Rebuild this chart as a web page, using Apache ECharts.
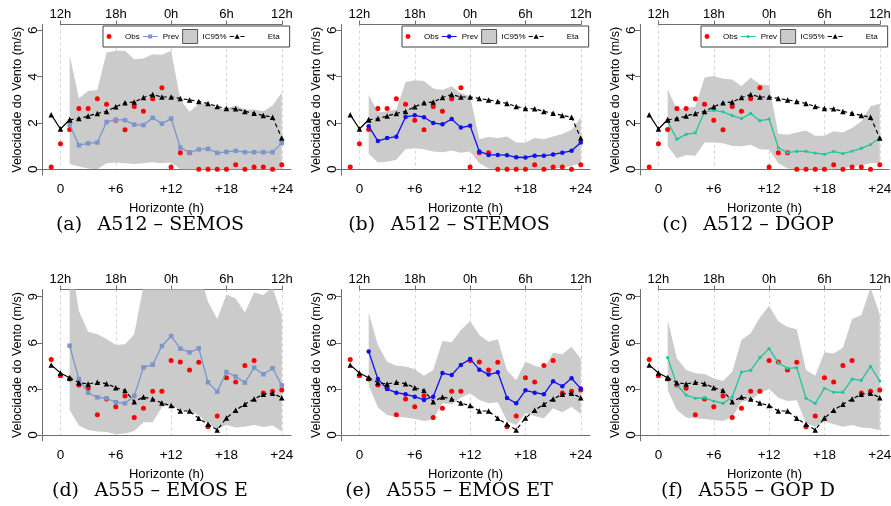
<!DOCTYPE html>
<html>
<head>
<meta charset="utf-8">
<script src="https://cdn.jsdelivr.net/npm/echarts@6/dist/echarts.min.js"></script>
<style>html,body{margin:0;padding:0;background:#fff}#chart{width:891px;height:506px}</style>
</head>
<body>
<div id="chart"></div>
<script>
// ---------- data ----------
const hours = [-1,0,1,2,3,4,5,6,7,8,9,10,11,12,13,14,15,16,17,18,19,20,21,22,23,24];
const prevHours = [1,2,3,4,5,6,7,8,9,10,11,12,13,14,15,16,17,18,19,20,21,22,23,24];
const xTickValues = [0,6,12,18,24];
const xTickLabels = ['0','+6','+12','+18','+24'];
const topTickLabels = ['12h','18h','0h','6h','12h'];
const yTicksA512 = [0,2,4,6];
const yTicksA555 = [0,3,6,9];

const obsA512 = [0.1,1.1,1.72,2.62,2.62,3.04,2.81,2.12,1.71,2.71,2.51,3.04,3.52,0.1,0.71,0.71,0,0,0,0,0.2,0,0.1,0.1,0,0.2];
const etaA512 = [2.36,1.74,2.14,2.19,2.3,2.41,2.5,2.7,2.87,2.9,3.1,3.23,3.12,3.12,3.06,2.99,2.93,2.84,2.71,2.62,2.61,2.5,2.42,2.32,2.25,1.35];
const obsA555 = [4.92,3.86,3.64,3.25,3.04,1.32,2.34,1.84,2.54,1.13,1.74,2.84,2.84,4.84,4.75,4.23,4.73,0.54,1.24,3.73,3.45,4.53,4.84,2.73,2.84,2.93];
const etaA555 = [4.56,4.03,3.73,3.4,3.32,3.43,3.34,3.08,2.89,2.17,2.47,2.34,2.08,1.91,1.56,1.56,1.08,0.69,0.33,1.1,1.61,2.0,2.34,2.65,2.71,2.43];

const prevSEMOS = [1.93,1.04,1.12,1.16,2.04,2.14,2.12,1.93,1.91,2.22,1.97,2.19,0.94,0.72,0.86,0.88,0.71,0.75,0.8,0.74,0.74,0.74,0.74,1.14];
const upSEMOS   = [4.93,3.06,3.38,3.42,5.04,5.12,5.12,4.75,4.78,4.97,4.94,5.12,3.01,2.48,2.83,2.87,2.62,2.62,2.77,2.58,2.58,2.51,2.75,3.3];
const lowSEMOS  = [0.23,0.12,0.04,0,0.26,0.29,0.26,0.23,0.26,0.3,0.26,0.29,0,0,0,0,0,0,0,0,0,0,0,0];

const prevSTEMOS = [1.86,1.22,1.35,1.41,2.26,2.33,2.25,2.0,1.94,2.17,1.8,1.88,0.77,0.62,0.62,0.61,0.52,0.51,0.59,0.58,0.64,0.72,0.8,1.16];
const upSTEMOS   = [3.22,2.46,2.51,2.58,3.77,3.84,3.81,3.49,3.42,3.59,3.28,3.16,1.3,1.39,1.35,1.42,1.16,1.16,1.35,1.3,1.42,1.52,1.71,2.22];
const lowSTEMOS  = [0.67,0.29,0.33,0.41,0.87,0.91,0.87,0.77,0.74,0.81,0.72,0.77,0.26,0.04,0,0,0,0,0,0,0.04,0.07,0.14,0.26];

const prevDGOP = [2.07,1.3,1.51,1.57,2.48,2.54,2.48,2.32,2.19,2.41,2.1,2.17,0.93,0.72,0.77,0.77,0.7,0.65,0.77,0.68,0.78,0.9,1.07,1.35];
const upDGOP   = [3.45,2.58,2.65,2.7,3.96,4.03,3.91,3.88,3.59,3.96,3.67,3.62,1.54,1.49,1.59,1.68,1.45,1.45,1.64,1.59,1.78,2.07,2.72,2.83];
const lowDGOP  = [0.99,0.48,0.62,0.58,1.16,1.16,1.13,1.01,0.99,1.06,0.87,0.84,0.26,0.04,0,0,0,0,0,0.04,0.12,0.17,0.26,0.26];

const prevEMOSE = [5.81,3.64,2.75,2.45,2.39,2.13,2.06,2.54,4.4,4.58,5.79,6.44,5.62,5.38,5.64,3.43,2.82,4.1,3.8,3.41,4.38,3.95,4.34,3.23];
const upEMOSE   = [11.9,8.07,6.72,6.55,6.25,5.86,5.9,6.55,9.7,10.1,11.6,12.9,11.4,11.0,10.7,8.68,7.55,9.15,8.89,7.98,9.28,9.11,9.6,7.81];
const lowEMOSE  = [1.63,0.61,0.33,0.22,0.2,0.04,0.09,0.26,0.82,0.82,1.8,1.95,1.63,1.56,1.3,0.69,0.39,0.65,0.48,0.54,0.65,0.52,0.61,0.22];

const prevEMOSET = [5.44,3.64,2.99,2.75,2.65,2.49,2.28,2.49,4.03,3.9,4.56,4.95,4.25,3.93,4.08,2.41,2.06,2.91,2.75,2.65,3.49,3.17,3.69,3.02];
const upEMOSET   = [7.98,5.86,4.77,4.51,4.45,4.27,3.86,4.23,6.12,6.03,6.83,7.42,6.51,6.07,6.23,4.19,3.56,4.77,4.51,4.34,5.36,5.25,5.75,4.95];
const lowEMOSET  = [3.25,1.78,1.3,1.19,1.13,1.04,0.91,1.02,2.06,2.0,2.43,2.71,2.28,2.06,2.13,0.91,0.65,1.41,1.24,1.08,1.74,1.48,1.84,1.37];

const prevGOPD = [5.03,3.25,2.6,2.39,2.41,2.21,2.06,2.47,4.1,4.21,5.03,5.62,4.69,4.34,4.38,2.39,2.06,3.04,2.78,2.78,3.64,3.56,4.47,3.51];
const upGOPD   = [7.48,4.99,4.23,4.01,3.97,3.69,3.51,4.12,6.18,6.62,7.64,8.42,7.38,7.03,6.88,4.23,3.86,5.38,5.31,5.68,7.55,7.81,9.6,7.85];
const lowGOPD  = [2.93,1.63,1.13,1.08,1.04,0.98,0.91,1.13,2.17,2.28,2.71,2.99,2.43,2.21,2.26,0.76,0.54,0.87,0.69,0.54,0.65,0.48,0.43,0.33];

const captions = ['(a)\u2002 A512 \u2013 SEMOS','(b)\u2002 A512 \u2013 STEMOS','(c)\u2002 A512 \u2013 DGOP',
                  '(d)\u2002 A555 \u2013 EMOS E','(e)\u2002 A555 \u2013 EMOS ET','(f)\u2002 A555 \u2013 GOP D'];
const legendNames = ['Obs','Prev','IC95%','Eta'];
const yAxisTitle = 'Velocidade do Vento (m/s)';
const xAxisTitle = 'Horizonte (h)';

// ---------- styles / layout ----------
const FONT = 'Liberation Sans';
const AXIS_COLOR = '#6e6e6e';
const BAND_COLOR = '#cbcbcb';
const colLeft = [42, 341, 640];
const plotWidth = 249;
const xMin = -2, xMax = 25;
const rows = [
  {top: 24.5, height: 150.6, yMin: -0.25, yMax: 6.25, ticks: yTicksA512, capY: 225.5},
  {top: 289.5, height: 151.3, yMin: -0.38, yMax: 9.47, ticks: yTicksA555, capY: 491.5}
];
const capX = [150, 449, 748];

const panels = [
  {obs: obsA512, eta: etaA512, prev: prevSEMOS,  low: lowSEMOS,  up: upSEMOS,  color: '#7b96cb', symbol: 'rect',   size: 4.5},
  {obs: obsA512, eta: etaA512, prev: prevSTEMOS, low: lowSTEMOS, up: upSTEMOS, color: '#1010f0', symbol: 'circle', size: 4.5},
  {obs: obsA512, eta: etaA512, prev: prevDGOP,   low: lowDGOP,   up: upDGOP,   color: '#22c49c', symbol: 'circle', size: 3.2},
  {obs: obsA555, eta: etaA555, prev: prevEMOSE,  low: lowEMOSE,  up: upEMOSE,  color: '#7b96cb', symbol: 'rect',   size: 4.5},
  {obs: obsA555, eta: etaA555, prev: prevEMOSET, low: lowEMOSET, up: upEMOSET, color: '#1010f0', symbol: 'circle', size: 4.5},
  {obs: obsA555, eta: etaA555, prev: prevGOPD,   low: lowGOPD,   up: upGOPD,   color: '#22c49c', symbol: 'circle', size: 3.2}
];

// legend icons (15 x 14 boxes)
const iconObs = 'path://M0,0M15,14M1.6,7a2.4,2.4 0 1,1 4.8,0a2.4,2.4 0 1,1 -4.8,0Z';
const iconPrevSquare = 'path://M0,0M15,14M0,6.4h15v1.2h-15ZM5.5,5h4v4h-4Z';
const iconPrevCircle = 'path://M0,0M15,14M0,6.4h15v1.2h-15ZM5.3,7a2.2,2.2 0 1,1 4.4,0a2.2,2.2 0 1,1 -4.4,0Z';
const iconPrevDot = 'path://M0,0M15,14M0,6.4h15v1.2h-15ZM5.9,7a1.6,1.6 0 1,1 3.2,0a1.6,1.6 0 1,1 -3.2,0Z';
const iconEta = 'path://M0,0M15,14M0,6.4h4.2v1.2h-4.2ZM10.8,6.4h4.2v1.2h-4.2ZM7.5,4.4L10.1,9.2H4.9Z';
const prevIcons = [iconPrevSquare, iconPrevCircle, iconPrevDot];

const pair = (xs, ys) => xs.map((x, i) => [x, ys[i]]);
const xScale = plotWidth / (xMax - xMin);
const tickFirst = xTickValues[0], tickLast = xTickValues[xTickValues.length - 1];

const grid = [], xAxis = [], yAxis = [], series = [], legend = [], graphic = [];

panels.forEach((P, p) => {
  const row = rows[Math.floor(p / 3)];
  const col = p % 3;
  const gMain = 2 * p, gTop = 2 * p + 1;
  const zeroPx = row.height * row.yMax / (row.yMax - row.yMin);

  grid.push({left: colLeft[col], top: row.top, width: plotWidth, height: row.height, outerBoundsMode: 'none', containLabel: false});
  grid.push({left: colLeft[col] + (tickFirst - xMin) * xScale, top: row.top,
             width: (tickLast - tickFirst) * xScale, height: zeroPx, outerBoundsMode: 'none', containLabel: false});

  xAxis.push({
    gridIndex: gMain, type: 'value', min: xMin, max: xMax, position: 'bottom',
    axisLine: {show: true, onZero: true, lineStyle: {color: AXIS_COLOR, width: 1}},
    axisTick: {show: false},
    axisLabel: {customValues: xTickValues, formatter: v => xTickLabels[xTickValues.indexOf(v)],
                fontSize: 13.5, color: '#000', margin: 7, fontFamily: FONT},
    splitLine: {show: false},
    name: xAxisTitle, nameLocation: 'middle', nameGap: 27, nameMoveOverlap: false,
    nameTextStyle: {fontSize: 13, color: '#000', fontFamily: FONT}
  });
  xAxis.push({
    gridIndex: gTop, type: 'value', min: tickFirst, max: tickLast, interval: 6, position: 'top',
    axisLine: {show: true, onZero: false, lineStyle: {color: AXIS_COLOR, width: 1}},
    axisTick: {show: true, length: 4, lineStyle: {color: AXIS_COLOR}},
    axisLabel: {formatter: v => topTickLabels[xTickValues.indexOf(v)], fontSize: 13, color: '#000', margin: 4, fontFamily: FONT},
    splitLine: {show: true, lineStyle: {color: '#d4d4d4', width: 1, type: [3, 3]}}
  });
  yAxis.push({
    gridIndex: gMain, type: 'value', min: row.yMin, max: row.yMax,
    axisLine: {show: true, onZero: false, lineStyle: {color: AXIS_COLOR, width: 1}},
    axisTick: {show: true, customValues: row.ticks, length: 5, lineStyle: {color: AXIS_COLOR}},
    axisLabel: {customValues: row.ticks, rotate: 90, margin: 2, fontSize: 13.5, color: '#000', fontFamily: FONT},
    splitLine: {show: false},
    name: yAxisTitle, nameLocation: 'middle', nameGap: 18, nameMoveOverlap: false,
    nameTextStyle: {fontSize: 12.5, color: '#000', fontFamily: FONT}
  });
  yAxis.push({gridIndex: gTop, type: 'value', min: 0, max: 1, show: false});

  // IC95% band: one polygon through the library's coordinate system
  series.push({
    type: 'custom', name: 'IC95%|' + p, xAxisIndex: gMain, yAxisIndex: gMain,
    data: prevHours.map((x, i) => [x, P.low[i], P.up[i]]),
    encode: {x: 0, y: [1, 2]},
    itemStyle: {color: BAND_COLOR}, silent: true, z: 1,
    renderItem: (params, api) => {
      if (params.dataIndex !== 0) return null;
      const upper = prevHours.map((x, i) => api.coord([x, P.up[i]]));
      const lower = prevHours.map((x, i) => api.coord([x, P.low[i]])).reverse();
      const cs = params.coordSys;
      return {
        type: 'polygon', shape: {points: upper.concat(lower)},
        style: {fill: BAND_COLOR, stroke: null},
        clipPath: {type: 'rect', shape: {x: cs.x, y: cs.y, width: cs.width, height: cs.height}}
      };
    }
  });
  // Obs
  series.push({type: 'scatter', name: 'Obs|' + p, xAxisIndex: gMain, yAxisIndex: gMain,
    data: pair(hours, P.obs), symbol: 'circle', symbolSize: 5, itemStyle: {color: '#ff0000', opacity: 1}, z: 3});
  // Prev
  series.push({type: 'line', name: 'Prev|' + p, xAxisIndex: gMain, yAxisIndex: gMain,
    data: pair(prevHours, P.prev), symbol: P.symbol, symbolSize: P.size, showSymbol: true,
    lineStyle: {color: P.color, width: 1.3}, itemStyle: {color: P.color}, z: 4});
  // Eta: solid start (-1..1), dashed after
  series.push({type: 'line', name: 'EtaS|' + p, xAxisIndex: gMain, yAxisIndex: gMain,
    data: pair(hours.slice(0, 3), P.eta.slice(0, 3)), symbol: 'triangle', symbolSize: 5.5,
    lineStyle: {color: '#000', width: 1.2}, itemStyle: {color: '#000'}, z: 5});
  series.push({type: 'line', name: 'Eta|' + p, xAxisIndex: gMain, yAxisIndex: gMain,
    data: pair(hours.slice(2), P.eta.slice(2)), symbol: 'triangle', symbolSize: 5.5,
    lineStyle: {color: '#000', width: 1.2, type: [4, 3]}, itemStyle: {color: '#000'}, z: 5});

  if (p < 3) {
    legend.push({
      left: colLeft[col] + 61, top: 26, orient: 'horizontal', selectedMode: false,
      padding: [3, 10, 3, 2], itemGap: 3, itemWidth: 15, itemHeight: 14,
      borderColor: '#444', borderWidth: 1, borderRadius: 0, backgroundColor: '#fff',
      textStyle: {fontSize: 8, color: '#000', fontFamily: FONT},
      formatter: n => n.split('|')[0],
      data: [
        {name: legendNames[0] + '|' + p, icon: iconObs, itemStyle: {borderWidth: 0}},
        {name: legendNames[1] + '|' + p, icon: prevIcons[col], itemStyle: {borderWidth: 0}},
        {name: legendNames[2] + '|' + p, icon: 'rect', itemStyle: {color: BAND_COLOR, borderColor: '#555', borderWidth: 1}},
        {name: legendNames[3] + '|' + p, icon: iconEta, itemStyle: {borderWidth: 0}, textStyle: {padding: [0, 0, 0, 18]}}
      ]
    });
  }

  graphic.push({type: 'text', x: capX[col], y: row.capY, silent: true,
    style: {text: captions[p], fontSize: 19, fontFamily: 'DejaVu Serif', fill: '#000', align: 'center', verticalAlign: 'middle'}});
});

const chart = echarts.init(document.getElementById('chart'), null, {renderer: 'canvas'});
chart.setOption({
  animation: false,
  backgroundColor: '#fff',
  textStyle: {fontFamily: FONT},
  grid, xAxis, yAxis, series, legend, graphic
});
</script>
</body>
</html>
